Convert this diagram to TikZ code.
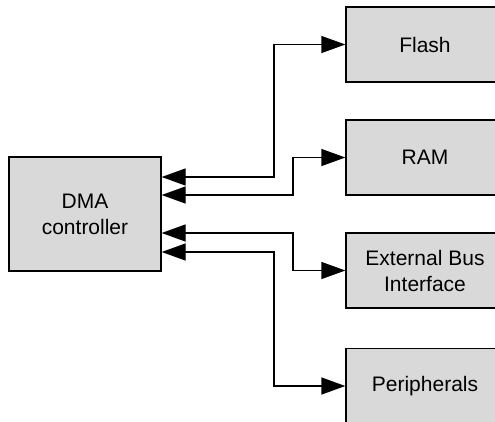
\documentclass[tikz,border=0pt]{standalone}
\usepackage{fontspec}
\setmainfont{Liberation Sans}
\usetikzlibrary{arrows.meta}
\definecolor{boxgray}{HTML}{D9D9D9}
\begin{document}
\begin{tikzpicture}[x=1pt,y=-1pt,
  blk/.style={draw=black,line width=1.3pt,fill=boxgray,rectangle,inner sep=0pt,
    align=center,font=\fontsize{21}{26}\selectfont},
  unit/.style={blk,minimum width=158pt,minimum height=75pt},
  link/.style={line width=1.3pt,{Triangle[length=24pt,width=17pt]}-{Triangle[length=24pt,width=17pt]}}]
\useasboundingbox (0,0) rectangle (495,421);
\clip (0,0) rectangle (495,421);
\node[blk,minimum width=152pt,minimum height=114pt] (dma) at (85,214) {DMA\\controller};
\node[unit] (flash) at (425,44.5) {Flash};
\node[unit] (ram) at (425,157.5) {RAM};
\node[unit] (ebi) at (425,270.5) {External Bus\\Interface};
\node[unit] (per) at (425,386) {Peripherals};
\draw[link] (dma.east |- 0,177) -| (274,100) |- (flash.west);
\draw[link] (dma.east |- 0,195) -| (293,170) |- (ram.west);
\draw[link] (dma.east |- 0,233) -| (293,250) |- (ebi.west);
\draw[link] (dma.east |- 0,252) -| (274,300) |- (per.west);
\end{tikzpicture}
\end{document}
